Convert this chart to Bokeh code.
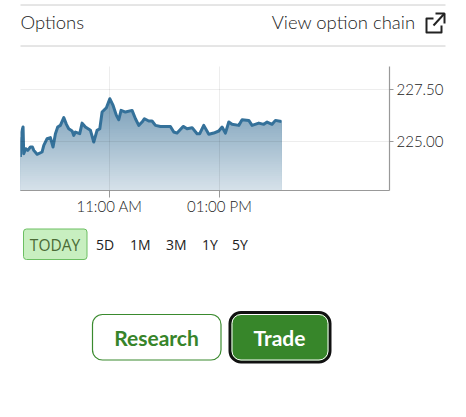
from bokeh.plotting import figure
from bokeh.embed import file_html
from bokeh.resources import INLINE
from bokeh.core.properties import value
from bokeh.models import FixedTicker, NumeralTickFormatter, Range1d
import numpy as np

# minutes after midnight
times = [562.9,563.6,565.8,566.5,568.7,570.9,573.8,576.0,577.5,581.1,586.5,588.4,592.0,595.6,598.5,601.1,603.6,
         606.5,610.2,613.1,615.6,619.3,621.1,622.9,627.6,630.2,633.8,639.3,642.9,646.5,649.5,652.0,656.7,660.4,
         664.0,667.6,670.2,672.7,677.5,684.7,688.4,692.0,695.6,698.2,702.9,706.5,710.2,715.6,719.3,726.5,730.2,
         733.8,740.4,744.7,750.2,755.6,758.5,762.9,768.4,773.8,779.3,782.9,786.5,790.2,793.8,801.1,804.7,812.0,
         815.6,822.9,828.4,832.0,837.4,841.1,847.6]
prices = [224.25,225.37,225.69,224.41,224.65,224.57,224.73,224.73,224.57,224.38,224.49,224.81,225.13,225.18,224.73,225.37,225.69,
          225.77,226.14,225.82,225.61,225.50,225.29,225.45,225.37,225.88,225.69,225.53,224.97,225.53,225.61,226.41,226.62,227.05,
          226.73,226.25,226.04,226.49,226.41,226.49,226.09,225.77,225.93,226.09,225.98,225.98,225.77,225.72,225.72,225.72,225.45,
          225.40,225.72,225.61,225.66,225.37,225.37,225.77,225.34,225.40,225.50,225.69,225.40,225.93,225.82,225.77,226.04,226.01,
          225.77,225.88,225.82,225.93,225.82,226.01,225.96]
x_ticks = [660, 780]
x_labels = ["11:00 AM", "01:00 PM"]
y_ticks = [225.0, 227.5]
ranges = ["5D", "1M", "3M", "1Y", "5Y"]
range_x = [95.5, 129.5, 165.5, 201.5, 231.5]

Y0, Y1 = 222.64, 228.6
X0, X1 = 563.0, 965.5
W = 450


def panel(top, bottom):
    f = figure(width=W, height=bottom - top, output_backend="svg", toolbar_location=None,
               x_range=Range1d(0, W), y_range=Range1d(bottom, top),
               min_border=0, min_border_left=0, min_border_right=0, min_border_top=0, min_border_bottom=0)
    f.axis.visible = False
    f.grid.visible = False
    f.outline_line_color = None
    return f


def label(f, x, y, text, size=14, font="Lato", color="#333333", align="left", style="normal"):
    f.text([x], [y], text=[text], text_font=value(font), text_font_size=f"{size}px", text_color=color,
           text_align=align, text_baseline="middle", text_font_style=style)


def box(f, l, r, t_, b, fill=None, line=None, width=1.0, radius=0):
    f.quad(left=[l], right=[r], top=[t_], bottom=[b], fill_color=fill, fill_alpha=1.0 if fill else 0,
           line_color=line, line_width=width, border_radius=radius)


head = panel(0, 66)
head.line([20, 445], [4.5, 4.5], line_color="#cccccc", line_width=1)
head.line([20, 445], [45.5, 45.5], line_color="#cccccc", line_width=1)
label(head, 20, 21.5, "Options", size=18.5, font="Lato Light", color="#222222")
label(head, 415, 21.5, "View option chain", size=18.5, font="Lato Light", color="#222222", align="right")
head.line([433, 426, 426, 441, 441], [18, 18, 32, 32, 25], line_color="#222222", line_width=2, line_join="round")
head.line([433, 444], [25, 13], line_color="#222222", line_width=2)
head.line([435, 444, 444], [13, 13, 23], line_color="#222222", line_width=2)

p = figure(width=W, height=151, output_backend="svg", toolbar_location=None,
           x_range=Range1d(X0, X1), y_range=Range1d(Y0, Y1),
           y_axis_location="right", min_border_left=20, min_border_right=61,
           min_border_top=0, min_border_bottom=0)
p.outline_line_color = None

t = np.array(times); v = np.array(prices)
edges = np.linspace(Y0, 227.1, 46)[1:]
c_top = np.array([120, 158, 184]); c_bot = np.array([216, 227, 235])
for e in edges[::-1]:
    f = (e - Y0) / (227.1 - Y0)
    c = (c_bot + (c_top - c_bot) * f).astype(int)
    p.varea(t, np.full(t.shape, Y0), np.minimum(v, e), fill_color="#%02x%02x%02x" % tuple(c))
p.line(t, v, line_color="#34719a", line_width=3, line_join="round")

p.xaxis.ticker = FixedTicker(ticks=x_ticks)
p.xaxis.major_label_overrides = dict(zip(x_ticks, x_labels))
p.yaxis.ticker = FixedTicker(ticks=y_ticks)
p.yaxis.formatter = NumeralTickFormatter(format="0.00")
for ax in (p.xaxis[0], p.yaxis[0]):
    ax.axis_line_color = "#999999"
    ax.axis_line_width = 1.2
    ax.major_tick_line_color = "#999999"
    ax.minor_tick_line_color = None
    ax.major_tick_in = 0
    ax.major_label_text_font = "Lato Light"
    ax.major_label_text_font_size = "15px"
    ax.major_label_text_color = "#222222"
p.xaxis[0].major_tick_out = 7
p.yaxis[0].major_tick_out = 4
p.xaxis[0].major_label_standoff = -1
p.yaxis[0].major_label_standoff = 3
p.grid.grid_line_color = "black"
p.grid.grid_line_alpha = 0.07
p.grid.level = "overlay"

foot = panel(217, 401)
box(foot, 23, 86.5, 259, 228.5, fill="#c8efc0", line="#6cbf62", width=1, radius=3)
label(foot, 54.5, 244, "TODAY", size=15.5, font="Open Sans", color="#4a6b35", align="center")
for rx, rt in zip(range_x, ranges):
    label(foot, rx, 244, rt, size=14, font="Open Sans", color="#222222")
box(foot, 92, 220.5, 359.5, 314, fill="white", line="#3a8a2e", width=1.2, radius=10)
label(foot, 156, 337, "Research", size=21, color="#37842a", align="center", style="bold")
box(foot, 229.5, 329.5, 361.5, 312, fill="#37862a", line="#111111", width=3, radius=11)
box(foot, 231.5, 327.5, 359.5, 314, fill=None, line="#ffffff", width=1, radius=9)
label(foot, 279, 337, "Trade", size=21, color="white", align="center", style="bold")

open("out.html", "w").write(file_html([head, p, foot], INLINE))
